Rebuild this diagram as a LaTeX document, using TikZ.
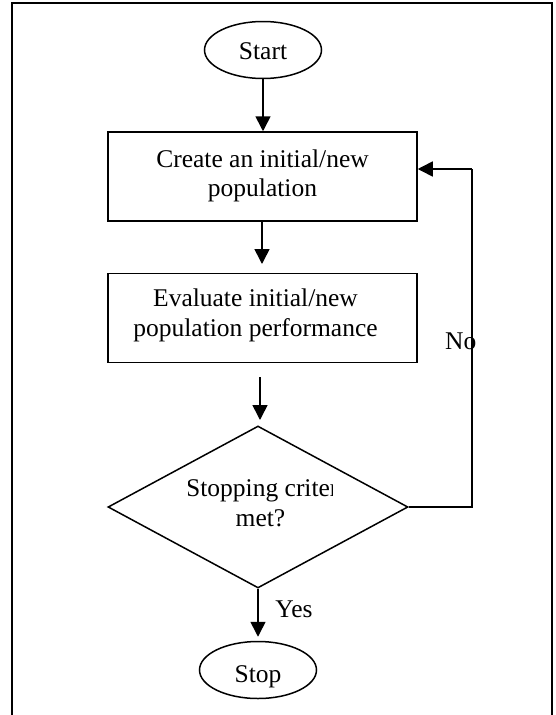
\documentclass[tikz,border=0pt]{standalone}
\usepackage{fontspec}
\setmainfont{Liberation Serif}
\usetikzlibrary{shapes.geometric,arrows.meta}
\begin{document}
\begin{tikzpicture}[x=1pt,y=-1pt,
  term/.style={draw,ellipse,line width=1.5pt,minimum width=117pt,minimum height=57pt,inner sep=0pt},
  procbox/.style={draw,rectangle,line width=1.5pt,minimum width=309pt,minimum height=89pt,inner sep=0pt},
  decis/.style={draw,diamond,line width=1.5pt,minimum width=300pt,minimum height=162pt,inner sep=0pt},
  lbl/.style={font=\fontsize{25.5}{29.5}\selectfont,inner sep=0pt,align=center},
  flow/.style={line width=1.6pt,-{Triangle[length=15pt,width=15pt]}},
  conn/.style={line width=1.6pt}
]
\useasboundingbox (0,0) rectangle (556,715);
% frame
\draw[line width=2.2pt] (12,715) -- (12,3) -- (552,3) -- (552,715);

% shapes
\node[term] (start) at (263,50) {};
\node[lbl,anchor=base] (startt) at (263,59) {Start};

\node[procbox] (b1) at (262.5,176.5) {};
\node[lbl] (b1t) at (262.5,175.7) {Create an initial/new\\population};

\node[procbox] (b2) at (262.5,318) {};
\node[lbl] (b2t) at (255.5,315.2) {Evaluate initial/new\\population performance};

\node[decis] (dec) at (258,507) {};
\begin{scope}
  \clip (188,470) rectangle (332,510);
  \node[lbl,anchor=base west] (dect1) at (186,496) {Stopping criter};
\end{scope}
\node[lbl,anchor=base] (dect2) at (260.5,526) {met?};

\node[term] (stop) at (258,670) {};
\node[lbl,anchor=base] (stopt) at (258,682) {Stop};

% labels
\node[lbl,anchor=base] (yes) at (294,617) {Yes};
\node[lbl,anchor=base west] (no) at (445,349) {No};

% connectors
\coordinate (a2e) at (262,264);
\coordinate (a3s) at (260,377);
\coordinate (a3e) at (260,420);
\coordinate (loopx) at (472,169);

\draw[flow] (start.south) -- (start.south |- b1.north);
\draw[flow] (b1.south -| a2e) -- (a2e);
\draw[flow] (a3s) -- (a3e);
\draw[flow,shorten >=4pt] (dec.south) -- (stop.north);
\draw[conn] (dec.east) -| (loopx);
\draw[flow] (loopx) -- (loopx -| b1.east);
\end{tikzpicture}
\end{document}
